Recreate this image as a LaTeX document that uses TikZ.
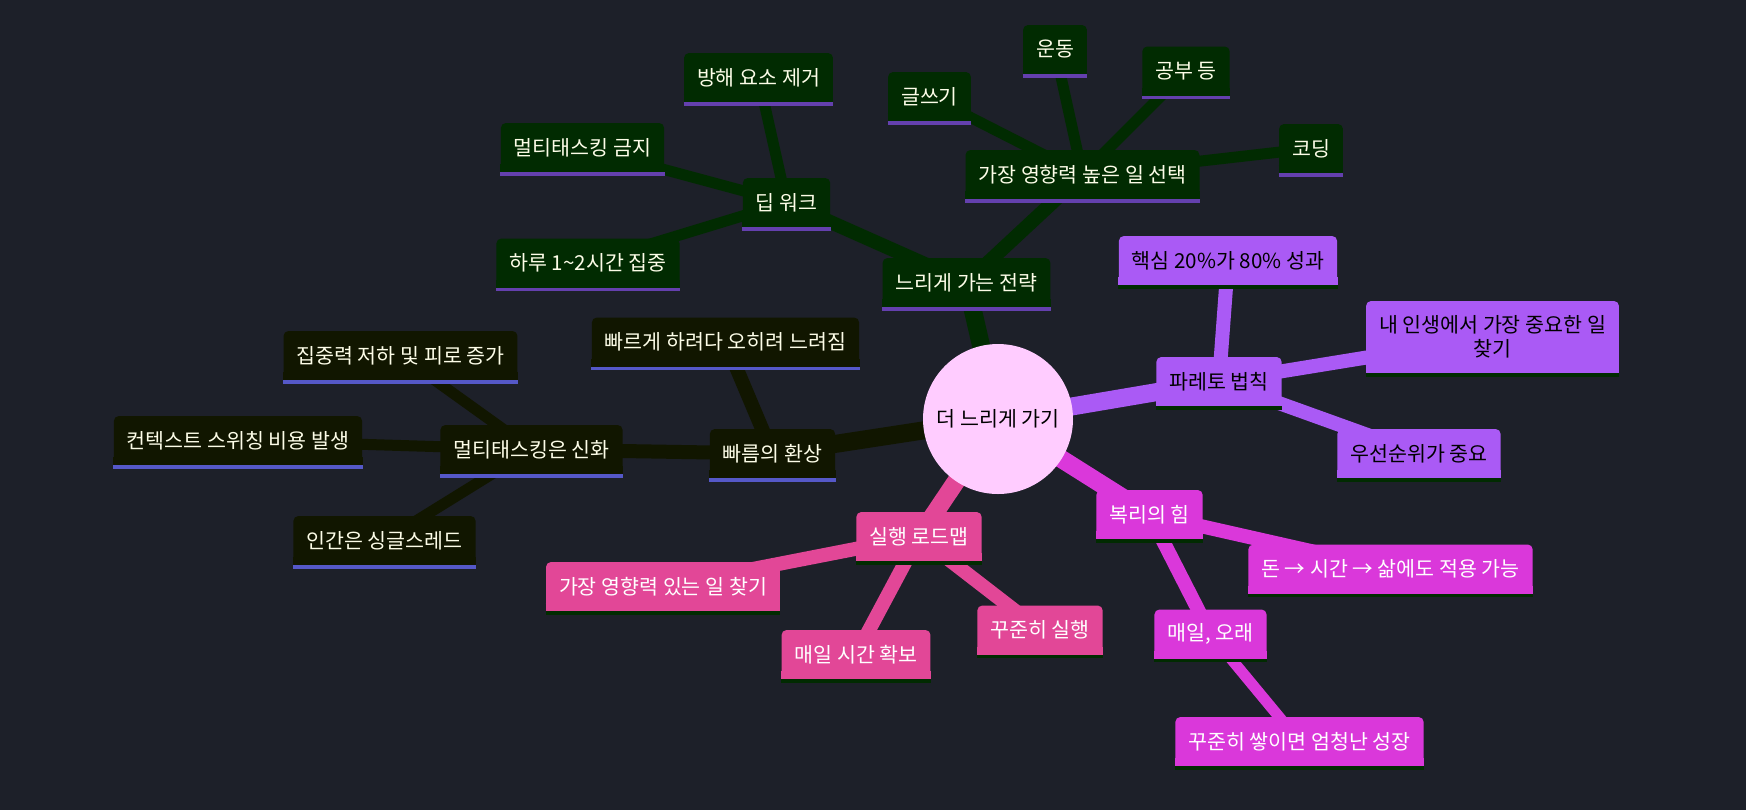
\documentclass[tikz,border=0pt]{standalone}
\usepackage{fontspec}
\newfontfamily\kofont{Noto Sans CJK KR}
\usepackage{tikz}

\pgfdeclarelayer{back}
\pgfsetlayers{back,main}

\definecolor{canvas}{HTML}{1D2029}
\definecolor{slowgreen}{HTML}{012B01}
\definecolor{fastolive}{HTML}{111600}
\definecolor{paretopurple}{HTML}{AA5AF5}
\definecolor{compoundmagenta}{HTML}{DA38DA}
\definecolor{roadpink}{HTML}{E24797}
\definecolor{rootpink}{HTML}{FFCCFF}
\definecolor{lineviolet}{HTML}{6440AE}
\definecolor{lineblue}{HTML}{5558C8}
\definecolor{lightyellow}{HTML}{FDFDE8}

\tikzset{
  topic/.style 2 args={rectangle, rounded corners=2.5pt, fill=#1, minimum height=24.5pt,
    inner xsep=6.5pt, inner ysep=0pt, font=\kofont\fontsize{10.3}{12}\selectfont,
    append after command={\pgfextra{\let\topicnode\tikzlastnode}
      ([yshift=2pt]\topicnode.south west) edge[-, line width=4pt, draw=#1, rounded corners=0pt] ([yshift=2pt]\topicnode.south east)
      ([yshift=-0.875pt]\topicnode.south west) edge[-, line width=1.75pt, draw=#2, rounded corners=0pt] ([yshift=-0.875pt]\topicnode.south east)}},
  slowbox/.style={topic={slowgreen}{lineviolet}, text=lightyellow},
  fastbox/.style={topic={fastolive}{lineblue}, text=lightyellow},
  paretobox/.style={topic={paretopurple}{slowgreen}, text=black},
  compoundbox/.style={topic={compoundmagenta}{slowgreen}, text=white},
  roadbox/.style={topic={roadpink}{slowgreen}, text=white},
  trunk/.style={line width=9pt},
  branch/.style={line width=7pt},
  twig/.style={line width=5.5pt}
}

\begin{document}
\begin{tikzpicture}[x=0.5pt, y=-0.5pt]
  \begin{pgfonlayer}{back}
    \fill[canvas] (0,0) rectangle (1746,810);
  \end{pgfonlayer}
  \useasboundingbox (0,0) rectangle (1746,810);

  % centre
  \node[circle, fill=rootpink, minimum size=75pt, inner sep=0pt, text=black,
        font=\kofont\fontsize{10.3}{12}\selectfont] (root) at (998,419) {더 느리게 가기};

  % slow strategy
  \node[slowbox] (slow) at (966.5,282.5) {느리게 가는 전략};
  \node[slowbox] (deep) at (786.5,202.5) {딥 워크};
  \node[slowbox] (block) at (758.5,77.5) {방해 요소 제거};
  \node[slowbox] (nomulti) at (582.5,147.5) {멀티태스킹 금지};
  \node[slowbox] (hours) at (588,263) {하루 1\textasciitilde2시간 집중};
  \node[slowbox] (impact) at (1082.5,174.5) {가장 영향력 높은 일 선택};
  \node[slowbox] (write) at (929.5,96.5) {글쓰기};
  \node[slowbox] (sport) at (1055,49.5) {운동};
  \node[slowbox] (study) at (1186,71) {공부 등};
  \node[slowbox] (code) at (1311,148.5) {코딩};

  % illusion of speed
  \node[fastbox] (fast) at (772.5,453.5) {빠름의 환상};
  \node[fastbox] (slower) at (725.5,342) {빠르게 하려다 오히려 느려짐};
  \node[fastbox] (myth) at (531.5,449.5) {멀티태스킹은 신화};
  \node[fastbox] (fatigue) at (400.5,355.5) {집중력 저하 및 피로 증가};
  \node[fastbox] (switch) at (238,440.5) {컨텍스트 스위칭 비용 발생};
  \node[fastbox] (single) at (384.5,540.5) {인간은 싱글스레드};

  % pareto
  \node[paretobox] (pareto) at (1219,381.5) {파레토 법칙};
  \node[paretobox] (core) at (1228,260.5) {핵심 20\%가 80\% 성과};
  \node[paretobox, minimum height=36pt, align=center] (life) at (1492.5,337) {내 인생에서 가장 중요한 일\\찾기};
  \node[paretobox] (priority) at (1419,453.5) {우선순위가 중요};

  % compounding
  \node[compoundbox] (compound) at (1149.5,514.5) {복리의 힘};
  \node[compoundbox] (money) at (1390.5,569) {돈 → 시간 → 삶에도 적용 가능};
  \node[compoundbox] (daily) at (1210.5,634) {매일, 오래};
  \node[compoundbox] (grow) at (1299.5,741.5) {꾸준히 쌓이면 엄청난 성장};

  % roadmap
  \node[roadbox] (road) at (919,536.5) {실행 로드맵};
  \node[roadbox] (find) at (663,586.5) {가장 영향력 있는 일 찾기};
  \node[roadbox] (time) at (856,654.5) {매일 시간 확보};
  \node[roadbox] (steady) at (1040,630) {꾸준히 실행};

  \begin{pgfonlayer}{back}
    \draw[trunk, slowgreen] (root.center) -- (slow.center);
    \draw[branch, slowgreen] (slow.center) -- (deep.center);
    \draw[branch, slowgreen] (slow.center) -- (impact.center);
    \foreach \leaf in {block, nomulti, hours}
      \draw[twig, slowgreen] (deep.center) -- (\leaf.center);
    \foreach \leaf in {write, sport, study, code}
      \draw[twig, slowgreen] (impact.center) -- (\leaf.center);

    \draw[trunk, fastolive] (root.center) -- (fast.center);
    \draw[branch, fastolive] (fast.center) -- (slower.center);
    \draw[branch, fastolive] (fast.center) -- (myth.center);
    \foreach \leaf in {fatigue, switch, single}
      \draw[twig, fastolive] (myth.center) -- (\leaf.center);

    \draw[trunk, paretopurple] (root.center) -- (pareto.center);
    \foreach \leaf in {core, life, priority}
      \draw[branch, paretopurple] (pareto.center) -- (\leaf.center);

    \draw[trunk, compoundmagenta] (root.center) -- (compound.center);
    \draw[branch, compoundmagenta] (compound.center) -- (money.center);
    \draw[branch, compoundmagenta] (compound.center) -- (daily.center);
    \draw[twig, compoundmagenta] (daily.center) -- (grow.center);

    \draw[trunk, roadpink] (root.center) -- (road.center);
    \foreach \leaf in {find, time, steady}
      \draw[branch, roadpink] (road.center) -- (\leaf.center);
  \end{pgfonlayer}
\end{tikzpicture}
\end{document}
